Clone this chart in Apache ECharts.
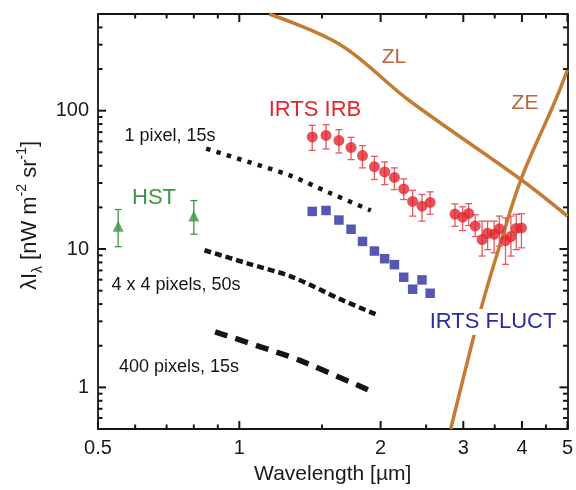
<!DOCTYPE html>
<html>
<head>
<meta charset="utf-8">
<script src="https://cdn.jsdelivr.net/npm/echarts@6/dist/echarts.min.js"></script>
<style>
  html, body { margin: 0; padding: 0; background: #fff; }
  #chart { width: 576px; height: 490px; }
</style>
</head>
<body>
<div id="chart"></div>
<script>
// tick values (wavelength in um, brightness in nW m^-2 sr^-1)
const xMajor = [0.5, 1, 2, 3, 4, 5];
const xMinor = [0.6, 0.7, 0.8, 0.9, 1.5, 2.5, 3.5, 4.5];
const yMajor = [1, 10, 100];
const yMinor = [0.6, 0.7, 0.8, 0.9, 2, 3, 4, 5, 6, 7, 8, 9, 20, 30, 40, 50, 60, 70, 80, 90, 200, 300, 400];

// IRTS IRB points with error bars
const irbX = [1.43, 1.53, 1.63, 1.73, 1.83, 1.94, 2.04, 2.14, 2.24, 2.34, 2.45, 2.55, 2.88, 2.99, 3.08, 3.18, 3.29, 3.38, 3.49, 3.58, 3.69, 3.79, 3.89, 3.99];
const irbY = [64.6, 66.3, 61, 54.3, 47.4, 39.4, 36.1, 32.9, 27.2, 22.1, 20.4, 21.7, 17.9, 17.0, 18.1, 14.7, 11.7, 13.0, 12.8, 14.0, 11.5, 12.3, 14.1, 14.2];
const irbHi = [78.3, 79.2, 72.9, 64.2, 55.9, 46.8, 42.6, 38.6, 32.1, 26.6, 24.8, 25.9, 21.2, 20.2, 21.3, 17.7, 15.9, 15.9, 15.9, 17.3, 16.8, 17.3, 17.8, 18.0];
const irbLo = [51.7, 52.9, 49.5, 44.3, 38.6, 31.8, 29.2, 26.9, 22.8, 17.3, 15.9, 17.8, 14.6, 13.6, 14.8, 12.3, 8.9, 9.9, 9.4, 10.5, 7.75, 8.9, 9.9, 10.2];

// IRTS fluctuations
const fluctX = [1.43, 1.53, 1.63, 1.73, 1.83, 1.94, 2.04, 2.14, 2.24, 2.34, 2.45, 2.55];
const fluctY = [18.7, 19.0, 16.2, 13.9, 11.35, 9.67, 8.51, 7.71, 6.25, 5.12, 5.98, 4.79];

// HST
const hstX = [0.552, 0.80];
const hstY = [14.6, 17.3];
const hstHi = [19.3, 22.4];
const hstLo = [10.4, 12.8];

// sensitivity curves
const px1X = [0.85, 1.045, 1.28, 1.556, 1.906];
const px1Y = [53.2, 42.6, 34.1, 25.5, 19.0];
const px16X = [0.843, 1.04, 1.29, 1.64, 1.95];
const px16Y = [9.8, 7.88, 6.32, 4.34, 3.38];
const px400X = [0.888, 1.205, 1.35, 1.90];
const px400Y = [2.52, 1.79, 1.56, 0.946];

// zodiacal light and zodiacal emission
const zlX = [1.157, 1.644, 2.29, 3.98, 5];
const zlY = [500, 299, 120, 31.8, 17.3];
const zeX = [2.82, 3.16, 3.33, 3.62, 3.98, 4.72, 5];
const zeY = [0.5, 2.36, 4.58, 11.7, 31.8, 120, 197];

const X_RANGE = [0.5, 5];
const Y_RANGE = [0.5, 500];

const L = Math.log10;
const FONT = 'Liberation Sans, Arial, sans-serif';
const RED = '#e2262d';
const RED_BAR = '#e45a60';
const BLUE = '#2b2d9f';
const GREEN = '#3c9646';
const BROWN = '#c47c33';
const BROWN_TXT = '#b9663c';
const INK = '#151515';

const pts = (xs, ys) => xs.map((x, i) => [L(x), L(ys[i])]);
const fmt = v => String(Math.round(Math.pow(10, v) * 10) / 10);

function mkAxis(position, range, labels) {
  return {
    type: 'value',
    position: position,
    min: L(range[0]),
    max: L(range[1]),
    axisLine: { show: true, onZero: false, lineStyle: { color: INK, width: 1.8 } },
    axisTick: { show: false },
    axisLabel: labels
      ? { show: true, customValues: labels.map(L), formatter: fmt, fontSize: 20, color: '#1a1a1a', fontFamily: FONT, margin: 9 }
      : { show: false },
    splitLine: { show: false }
  };
}

function errorBars(xs, lo, hi, color) {
  return {
    type: 'custom',
    xAxisIndex: 0,
    yAxisIndex: 0,
    z: 2,
    data: xs.map((x, i) => [L(x), L(lo[i]), L(hi[i])]),
    encode: { x: 0, y: [1, 2] },
    renderItem: function (params, api) {
      const x = api.value(0);
      const a = api.coord([x, api.value(1)]);
      const b = api.coord([x, api.value(2)]);
      const w = 3.5;
      const st = { stroke: color, lineWidth: 1.3 };
      return {
        type: 'group',
        children: [
          { type: 'line', shape: { x1: a[0], y1: a[1], x2: b[0], y2: b[1] }, style: st },
          { type: 'line', shape: { x1: a[0] - w, y1: a[1], x2: a[0] + w, y2: a[1] }, style: st },
          { type: 'line', shape: { x1: b[0] - w, y1: b[1], x2: b[0] + w, y2: b[1] }, style: st }
        ]
      };
    }
  };
}

function curve(xs, ys, color, width, dash, smooth) {
  return {
    type: 'line',
    xAxisIndex: 0,
    yAxisIndex: 0,
    data: pts(xs, ys),
    showSymbol: false,
    smooth: smooth,
    lineStyle: { color: color, width: width, type: dash, cap: 'butt' },
    z: 1
  };
}

const notes = [
  { text: 'ZL', x: 394, y: 57, color: BROWN_TXT, size: 21 },
  { text: 'ZE', x: 525, y: 103, color: BROWN_TXT, size: 21 },
  { text: 'IRTS IRB', x: 315, y: 110, color: RED, size: 22 },
  { text: '1 pixel, 15s', x: 170, y: 136, color: INK, size: 18 },
  { text: 'HST', x: 154, y: 198, color: GREEN, size: 22 },
  { text: '4 x 4 pixels, 50s', x: 176, y: 285, color: INK, size: 18 },
  { text: '400 pixels, 15s', x: 179, y: 367, color: INK, size: 18 },
  { text: 'IRTS FLUCT', x: 493, y: 322, color: BLUE, size: 22, bg: '#fff' }
];

const chart = echarts.init(document.getElementById('chart'));

chart.setOption({
  animation: false,
  backgroundColor: '#fff',
  grid: { left: 98, right: 6, top: 14, bottom: 60 },
  xAxis: [
    Object.assign(mkAxis('bottom', X_RANGE, xMajor), {
      name: 'Wavelength [µm]',
      nameLocation: 'middle',
      nameGap: 35,
      nameTextStyle: { fontSize: 21, color: '#1a1a1a', fontFamily: FONT }
    }),
    mkAxis('top', X_RANGE, null)
  ],
  yAxis: [
    Object.assign(mkAxis('left', Y_RANGE, yMajor), {
      name: '{m|λI}{sub|λ}{m| [nW m}{sup|-2}{m| sr}{sup|-1}{m|]}',
      nameLocation: 'middle',
      nameRotate: 90,
      nameGap: 50,
      nameTextStyle: {
        color: '#1a1a1a',
        fontFamily: FONT,
        padding: [0, 0, 0, 12],
        rich: {
          m: { fontSize: 22, lineHeight: 30, fontFamily: FONT, color: '#1a1a1a' },
          sub: { fontSize: 14, lineHeight: 14, verticalAlign: 'bottom', fontFamily: FONT, color: '#1a1a1a' },
          sup: { fontSize: 14, lineHeight: 14, verticalAlign: 'top', fontFamily: FONT, color: '#1a1a1a' }
        }
      }
    }),
    mkAxis('right', Y_RANGE, null)
  ],
  series: [
    curve(zlX, zlY, BROWN, 3.5, 'solid', 0.35),
    curve(zeX, zeY, BROWN, 3.5, 'solid', 0.35),
    curve(px1X, px1Y, INK, 4.5, [4.5, 6.3], 0.3),
    curve(px16X, px16Y, INK, 4.5, [7, 4], 0.3),
    curve(px400X, px400Y, INK, 5.5, [13, 8.5], 0.3),
    errorBars(irbX, irbLo, irbHi, RED_BAR),
    errorBars(hstX, hstLo, hstHi, GREEN),
    {
      type: 'scatter', xAxisIndex: 0, yAxisIndex: 0, z: 3,
      data: pts(irbX, irbY), symbol: 'circle', symbolSize: 11,
      itemStyle: { color: RED }
    },
    {
      type: 'scatter', xAxisIndex: 0, yAxisIndex: 0, z: 3,
      data: pts(fluctX, fluctY), symbol: 'rect', symbolSize: 9.5,
      itemStyle: { color: BLUE }
    },
    {
      type: 'scatter', xAxisIndex: 0, yAxisIndex: 0, z: 3,
      data: pts(hstX, hstY), symbol: 'triangle', symbolSize: 11,
      itemStyle: { color: GREEN }
    }
  ]
});

// inward tick marks on all four sides, placed through the grid's own scales
const toPx = (x, y) => chart.convertToPixel({ gridIndex: 0 }, [x, y]);
const ticks = [];
function tick(p, dx, dy) {
  ticks.push({
    type: 'line', z: 20, silent: true,
    shape: { x1: p[0], y1: p[1], x2: p[0] + dx, y2: p[1] + dy },
    style: { stroke: INK, lineWidth: 2 }
  });
}
[[xMajor, 8], [xMinor, 4.5]].forEach(([vals, len]) => vals.forEach(v => {
  tick(toPx(L(v), L(Y_RANGE[0])), 0, -len);
  tick(toPx(L(v), L(Y_RANGE[1])), 0, len);
}));
[[yMajor, 8], [yMinor, 4.5]].forEach(([vals, len]) => vals.forEach(v => {
  tick(toPx(L(X_RANGE[0]), L(v)), len, 0);
  tick(toPx(L(X_RANGE[1]), L(v)), -len, 0);
}));

const texts = notes.map(n => ({
  type: 'text',
  x: n.x,
  y: n.y,
  z: 10,
  style: {
    text: n.text,
    fill: n.color,
    font: n.size + 'px ' + FONT,
    textAlign: 'center',
    textVerticalAlign: 'middle',
    backgroundColor: n.bg || 'transparent',
    padding: n.bg ? [2, 3] : 0
  }
}));

chart.setOption({ graphic: { elements: ticks.concat(texts) } });
</script>
</body>
</html>
